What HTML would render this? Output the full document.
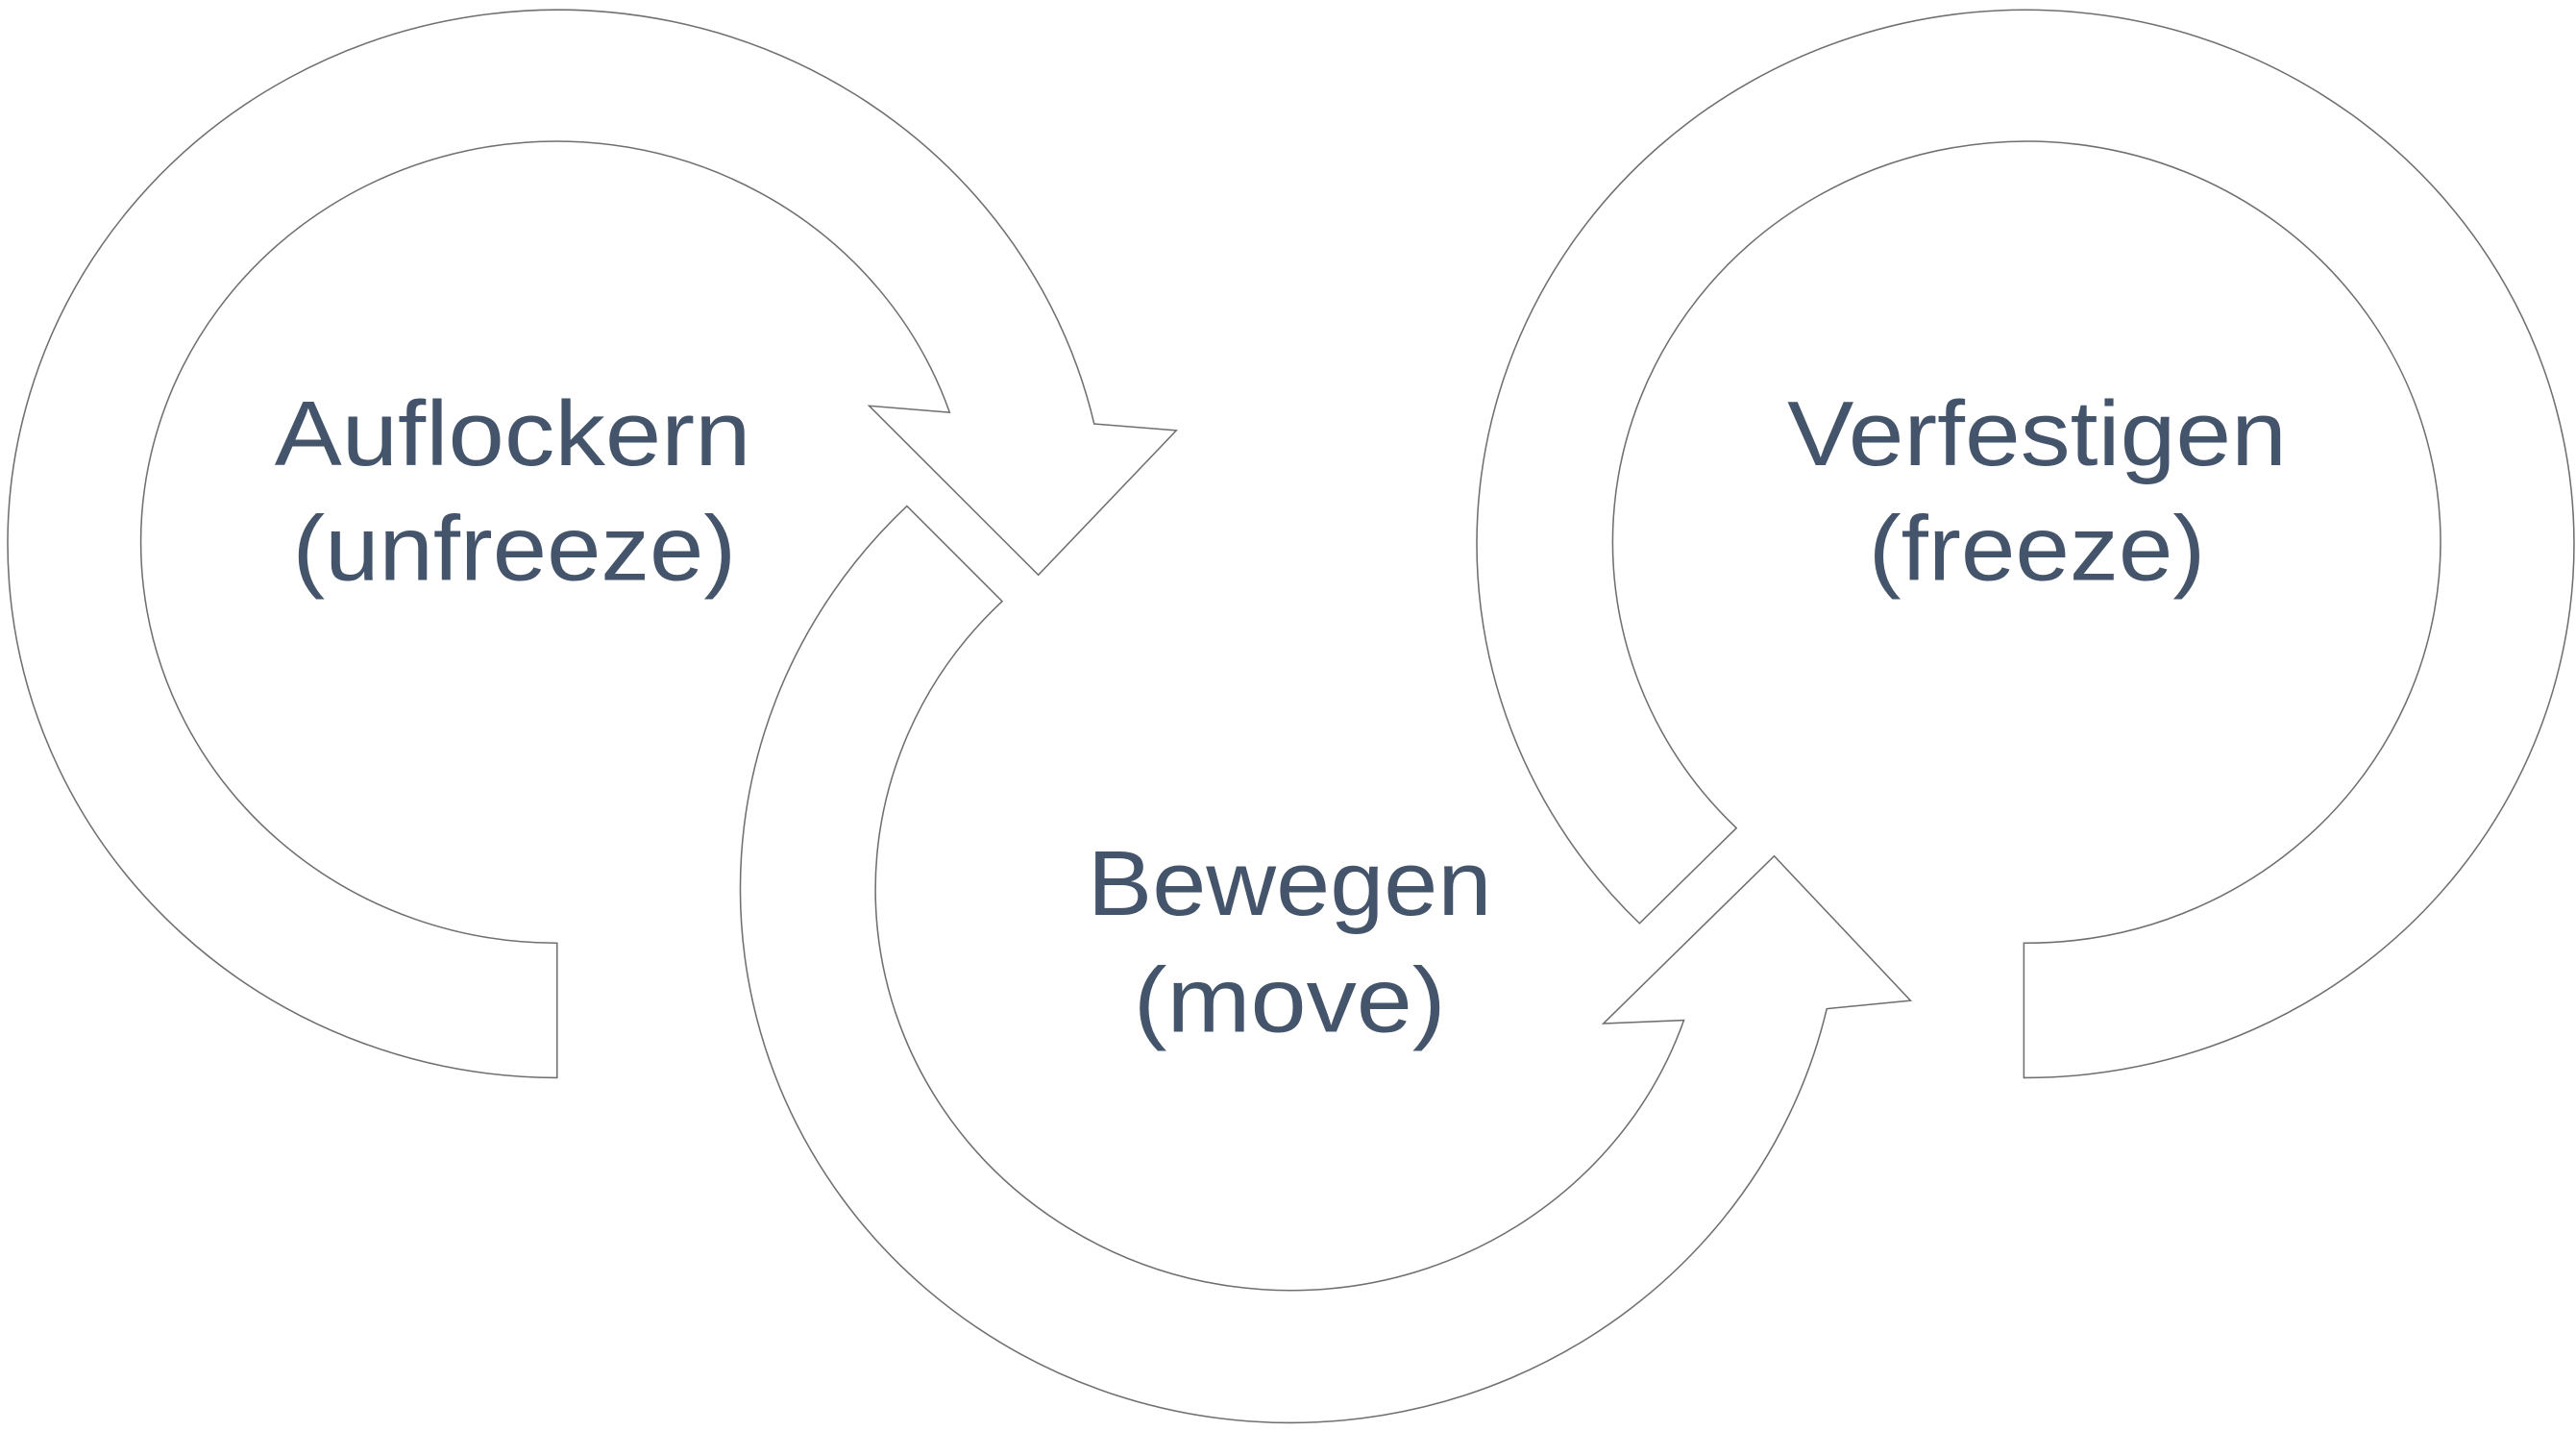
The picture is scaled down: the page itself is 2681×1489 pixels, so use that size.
<!DOCTYPE html>
<html><head><meta charset="utf-8"><style>html,body{margin:0;padding:0;background:#fff}svg{display:block}</style></head>
<body>
<svg width="2681" height="1489" viewBox="0 0 1568 871" xmlns="http://www.w3.org/2000/svg">
<g fill="#fff" stroke="#6f6f6f" stroke-width="0.9" stroke-linejoin="miter">
<path d="M339,656 A335,325 0 1 1 666,258 L716,262 L632,350 L529,247 L578,251 A253,244 0 1 0 339,574 Z"/>
<path d="M552,308 A335,325 0 1 0 1112,614 L1163,609 L1080,521 L976,623 L1025,621 A253,244 0 1 1 610,366 Z"/>
<path d="M998,562 A334,325 0 1 1 1232,656 L1232,574 A252,244 0 1 0 1057,504 Z"/>
</g>
<g fill="#44546A" font-family="'Liberation Sans', sans-serif" font-size="56" text-anchor="middle" font-weight="500">
<text x="312" y="283" textLength="290" lengthAdjust="spacingAndGlyphs">Auflockern</text>
<text x="313" y="353" textLength="270" lengthAdjust="spacingAndGlyphs">(unfreeze)</text>
<text x="1240" y="283" textLength="304" lengthAdjust="spacingAndGlyphs">Verfestigen</text>
<text x="1240" y="353" textLength="205" lengthAdjust="spacingAndGlyphs">(freeze)</text>
<text x="785" y="557" textLength="246" lengthAdjust="spacingAndGlyphs">Bewegen</text>
<text x="785" y="628" textLength="190" lengthAdjust="spacingAndGlyphs">(move)</text>
</g>
</svg>
</body></html>
